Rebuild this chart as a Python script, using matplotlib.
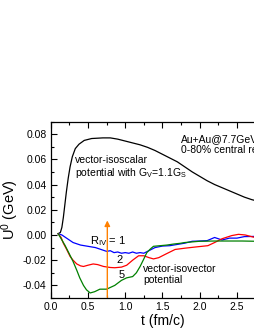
import matplotlib
matplotlib.use("Agg")
import matplotlib.pyplot as plt
from matplotlib.ticker import MultipleLocator

plt.rcParams['font.family'] = ['Liberation Sans', 'DejaVu Sans']
plt.rcParams['mathtext.fontset'] = 'custom'
plt.rcParams['mathtext.rm'] = 'Liberation Sans'
plt.rcParams['mathtext.it'] = 'Liberation Sans:italic'

# vector-isoscalar potential (black)
t_is = [0.10, 0.13, 0.15, 0.17, 0.19, 0.21, 0.235, 0.26, 0.29, 0.33, 0.38, 0.45, 0.55,
        0.70, 0.80, 0.90, 1.00, 1.10, 1.20, 1.30, 1.40, 1.50, 1.60, 1.70, 1.80, 1.90,
        2.00, 2.10, 2.20, 2.30, 2.40, 2.50, 2.60, 2.70, 2.80, 2.90, 3.00]
u_is = [0.001, 0.002, 0.006, 0.014, 0.024, 0.034, 0.045, 0.054, 0.062, 0.0685, 0.072,
        0.075, 0.0765, 0.077, 0.077, 0.076, 0.0745, 0.073, 0.0715, 0.0695, 0.067, 0.064,
        0.061, 0.058, 0.054, 0.050, 0.0465, 0.043, 0.040, 0.0375, 0.035, 0.0325, 0.030,
        0.028, 0.0265, 0.025, 0.0235]

# vector-isovector potential, R_IV = 1 (blue)
t_r1 = [0.10, 0.15, 0.20, 0.25, 0.30, 0.35, 0.40, 0.45, 0.50, 0.55, 0.60, 0.65, 0.70,
        0.75, 0.80, 0.85, 0.90, 0.95, 1.00, 1.05, 1.10, 1.15, 1.20, 1.25, 1.30, 1.35,
        1.40, 1.50, 1.60, 1.70, 1.80, 1.90, 2.00, 2.10, 2.20, 2.30, 2.40, 2.50, 2.60,
        2.70, 2.80, 2.90, 3.00]
u_r1 = [0.001, 0.000, -0.002, -0.004, -0.006, -0.007, -0.008, -0.0085, -0.009, -0.0095,
        -0.010, -0.011, -0.012, -0.013, -0.0125, -0.014, -0.0135, -0.0145, -0.014, -0.0145,
        -0.0135, -0.0145, -0.014, -0.0145, -0.013, -0.0115, -0.010, -0.0088, -0.0085,
        -0.0075, -0.0065, -0.005, -0.0048, -0.0045, -0.002, -0.004, -0.0025, -0.0025,
        -0.0013, -0.0012, -0.001, -0.001, -0.001]

# R_IV = 2 (red)
t_r2 = [0.10, 0.14, 0.17, 0.21, 0.26, 0.30, 0.35, 0.40, 0.44, 0.50, 0.57, 0.63, 0.71,
        0.80, 0.86, 0.95, 1.02, 1.10, 1.18, 1.25, 1.32, 1.38, 1.45, 1.55, 1.67, 1.80,
        1.95, 2.11, 2.20, 2.30, 2.43, 2.52, 2.61, 2.74, 2.85, 3.00]
u_r2 = [0.001, -0.002, -0.0066, -0.011, -0.017, -0.020, -0.023, -0.0245, -0.025, -0.024,
        -0.023, -0.0235, -0.025, -0.0258, -0.026, -0.0255, -0.024, -0.020, -0.0165,
        -0.0165, -0.018, -0.019, -0.018, -0.015, -0.0115, -0.0105, -0.0095, -0.0085,
        -0.006, -0.003, -0.0005, 0.0005, 0.000, -0.002, -0.003, -0.003]

# R_IV = 5 (green)
t_r5 = [0.10, 0.15, 0.19, 0.25, 0.30, 0.35, 0.39, 0.44, 0.48, 0.53, 0.59, 0.66, 0.75,
        0.86, 0.95, 1.02, 1.10, 1.15, 1.20, 1.25, 1.29, 1.34, 1.38, 1.47, 1.56, 1.65,
        1.74, 1.80, 2.00, 2.20, 2.40, 2.57, 2.75, 3.00]
u_r5 = [0.001, -0.004, -0.008, -0.015, -0.021, -0.028, -0.034, -0.040, -0.0435, -0.046,
        -0.045, -0.043, -0.043, -0.040, -0.036, -0.034, -0.033, -0.030, -0.025, -0.019,
        -0.014, -0.011, -0.009, -0.0085, -0.008, -0.0072, -0.0066, -0.006, -0.005,
        -0.0048, -0.0048, -0.0048, -0.005, -0.005]

fig = plt.figure(figsize=(2.55, 3.3), dpi=100)
ax = fig.add_axes([50.7 / 255, 32 / 330, 3.0 * 74.5 / 255, 176.5 / 330])

ax.plot(t_is, u_is, color='black', lw=0.9)
ax.plot(t_r1, u_r1, color='#0000ff', lw=0.9)
ax.plot(t_r2, u_r2, color='#ff0000', lw=0.9)
ax.plot(t_r5, u_r5, color='#008000', lw=0.9)

# orange arrow showing increasing R_IV
ax.annotate('', xy=(0.76, 0.0115), xytext=(0.76, -0.0495),
            arrowprops=dict(arrowstyle='-|>', color='#ff8000', lw=1.0,
                            mutation_scale=8, shrinkA=0, shrinkB=0))

fs = 7.5
ax.text(0.33, 0.0535, 'vector-isoscalar\npotential with G$_\\mathrm{V}$=1.1G$_\\mathrm{S}$',
        fontsize=fs, ha='left', va='center', linespacing=1.1)
ax.text(1.75, 0.0715, 'Au+Au@7.7GeV\n0-80% central region',
        fontsize=fs, ha='left', va='center', linespacing=1.1)
ax.text(0.53, -0.0045, 'R$_\\mathrm{IV}$ = 1', fontsize=fs + 0.5, ha='left', va='center')
ax.text(0.92, -0.020, '2', fontsize=fs + 0.5, ha='center', va='center')
ax.text(0.95, -0.032, '5', fontsize=fs + 0.5, ha='center', va='center')
ax.text(1.24, -0.0315, 'vector-isovector\npotential', fontsize=fs,
        ha='left', va='center', linespacing=1.1)

ax.set_xlim(0, 3.0)
ax.set_ylim(-0.05, 0.09)
ax.xaxis.set_major_locator(MultipleLocator(0.5))
ax.xaxis.set_minor_locator(MultipleLocator(0.25))
ax.yaxis.set_major_locator(MultipleLocator(0.02))
ax.yaxis.set_minor_locator(MultipleLocator(0.01))
ax.xaxis.set_major_formatter(plt.FuncFormatter(lambda v, p: f"{v:.1f}"))
ax.yaxis.set_major_formatter(plt.FuncFormatter(lambda v, p: f"{v:.2f}"))
ax.tick_params(which='both', direction='in', top=True, right=True, labelsize=7.5, pad=3)
ax.tick_params(which='major', length=4, width=0.8)
ax.tick_params(which='minor', length=2, width=0.8)
for s in ax.spines.values():
    s.set_linewidth(0.9)

ax.set_xlabel('t (fm/c)', fontsize=10, labelpad=1)
ax.set_ylabel('U$^0$ (GeV)', fontsize=10.5, labelpad=0)
ax.yaxis.set_label_coords(-0.135, 0.5)

fig.savefig('out.png', dpi=100)
